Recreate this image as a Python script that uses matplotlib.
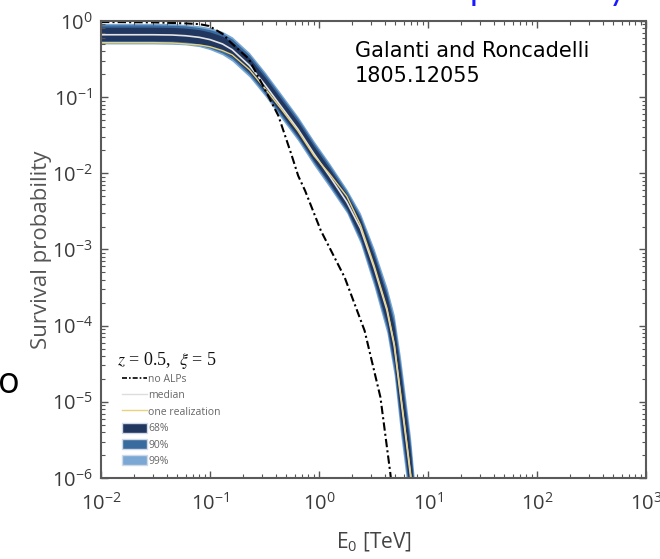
import matplotlib
matplotlib.use('Agg')
import matplotlib.pyplot as plt
from matplotlib.lines import Line2D
from matplotlib.patches import Patch
from matplotlib.ticker import LogLocator, NullFormatter

plt.rcParams['font.family'] = ['Open Sans', 'DejaVu Sans']
plt.rcParams['mathtext.default'] = 'regular'

# energies [TeV] shared by the ALP curves
energy = [0.01, 0.03, 0.045, 0.06, 0.08, 0.1, 0.13, 0.16, 0.23, 0.32, 0.45, 0.64,
          0.9, 1.25, 1.8, 2.4, 3.2, 4.2, 4.9, 5.6, 6.3, 6.9, 7.6]
median = [0.66, 0.66, 0.655, 0.64, 0.61, 0.57, 0.50, 0.42, 0.26, 0.145, 0.075, 0.038,
          0.018, 0.0092, 0.0042, 0.0019, 5.8e-4, 1.6e-4, 5.5e-5, 1.2e-5, 3.2e-6,
          1.1e-6, 2.5e-7]
realization = [0.52, 0.52, 0.515, 0.50, 0.485, 0.46, 0.41, 0.36, 0.23, 0.13, 0.07,
               0.036, 0.017, 0.0098, 0.0050, 0.0021, 6.2e-4, 1.7e-4, 5.8e-5, 1.3e-5,
               3.4e-6, 1.2e-6, 2.7e-7]
hi99 = [0.93, 0.93, 0.925, 0.90, 0.866, 0.82, 0.73, 0.62, 0.385, 0.214, 0.111, 0.056,
        0.0266, 0.0136, 0.0062, 0.0030, 1.03e-3, 3.2e-4, 1.38e-4, 3.8e-5, 1.0e-5,
        3.5e-6, 7.9e-7]
lo99 = [0.50, 0.50, 0.495, 0.486, 0.46, 0.42, 0.36, 0.297, 0.184, 0.103, 0.053, 0.0269,
        0.0127, 0.0065, 0.0030, 0.0012, 3.26e-4, 8.0e-5, 2.2e-5, 3.8e-6, 1.0e-6,
        3.5e-7, 7.9e-8]
hi90 = [0.89, 0.89, 0.88, 0.863, 0.82, 0.769, 0.69, 0.58, 0.359, 0.200, 0.1035, 0.0524,
        0.0248, 0.0127, 0.0058, 0.00275, 9.2e-4, 2.78e-4, 1.15e-4, 3.0e-5, 8.0e-6,
        2.8e-6, 6.3e-7]
lo90 = [0.524, 0.524, 0.52, 0.508, 0.48, 0.442, 0.38, 0.319, 0.197, 0.110, 0.0569,
        0.0288, 0.0137, 0.00698, 0.00319, 0.00131, 3.66e-4, 9.2e-5, 2.6e-5, 4.8e-6,
        1.27e-6, 4.4e-7, 1.0e-7]
hi68 = [0.83, 0.83, 0.825, 0.806, 0.77, 0.718, 0.63, 0.529, 0.327, 0.183, 0.0944,
        0.0478, 0.0227, 0.0116, 0.00529, 0.0025, 8.2e-4, 2.42e-4, 9.6e-5, 2.4e-5,
        6.4e-6, 2.2e-6, 5.0e-7]
lo68 = [0.55, 0.55, 0.545, 0.532, 0.50, 0.463, 0.41, 0.341, 0.211, 0.118, 0.061,
        0.0309, 0.0146, 0.00748, 0.00341, 0.00144, 4.1e-4, 1.06e-4, 3.2e-5, 6.0e-6,
        1.6e-6, 5.5e-7, 1.25e-7]

# no-ALP case
energy_noalp = [0.01, 0.03, 0.06, 0.08, 0.098, 0.13, 0.158, 0.226, 0.297, 0.424,
                0.556, 0.644, 0.746, 1.04, 1.72, 2.62, 3.66, 4.51, 4.8]
noalp = [0.97, 0.96, 0.93, 0.91, 0.86, 0.68, 0.51, 0.32, 0.154, 0.057,
         0.018, 0.0093, 0.0059, 0.00177, 4.3e-4, 8.6e-5, 1.15e-5, 1.16e-6, 5e-7]

c68, c90, c99 = '#223760', '#3a6b9f', '#7aa7d3'
c_med, c_real = '#e4e4e4', '#e9d27c'

fig = plt.figure(figsize=(6.6, 5.59), dpi=100)
ax = fig.add_axes([101 / 660, 1 - 478 / 559, 545 / 660, 457 / 559])

ax.fill_between(energy, lo99, hi99, color=c99, lw=0)
ax.fill_between(energy, lo90, hi90, color=c90, lw=0)
ax.fill_between(energy, lo68, hi68, color=c68, lw=0)
ax.plot(energy, median, color=c_med, lw=1.2)
ax.plot(energy, realization, color=c_real, lw=1.0)
ax.plot(energy_noalp, noalp, color='black', lw=1.5, ls=(0, (4, 1.5, 1, 1.5)))

ax.set_xscale('log')
ax.set_yscale('log')
ax.set_xlim(1e-2, 1e3)
ax.set_ylim(1e-6, 1e0)
ax.xaxis.set_major_locator(LogLocator(base=10, numticks=10))
ax.yaxis.set_major_locator(LogLocator(base=10, numticks=10))
ax.xaxis.set_minor_locator(LogLocator(base=10, subs=range(2, 10), numticks=20))
ax.yaxis.set_minor_locator(LogLocator(base=10, subs=range(2, 10), numticks=20))
ax.xaxis.set_minor_formatter(NullFormatter())
ax.yaxis.set_minor_formatter(NullFormatter())
ax.tick_params(which='both', direction='in', top=True, right=True, colors='#555555',
               labelcolor='#3a3a3a')
ax.tick_params(which='major', length=5, width=1.0, labelsize=14.5)
ax.tick_params(which='minor', length=3, width=0.8)
ax.tick_params(axis='x', pad=11)
ax.tick_params(axis='y', pad=6)
for sp in ax.spines.values():
    sp.set_color('#5a5a5a')
    sp.set_linewidth(1.5)

ax.set_ylabel('Survival probability', fontsize=16, color='#555555', labelpad=0)
ax.set_xlabel(r'E$_0$ [TeV]', fontsize=15, color='#444444', labelpad=11)

# legend block in the lower left corner
ax.text(0.03, 0.258, r'$\mathit{z}$ = 0.5,  $\mathit{\xi}$ = 5', transform=ax.transAxes,
        fontsize=13, color='#111111', va='center', family=['Liberation Serif'],
        math_fontfamily='stix')
handles = [
    Line2D([], [], color='black', lw=1.2, ls=(0, (3, 1.2, 1, 1.2))),
    Line2D([], [], color='#dddddd', lw=1.0),
    Line2D([], [], color=c_real, lw=1.0),
    Patch(facecolor=c68, edgecolor='#cfd8e6'),
    Patch(facecolor=c90, edgecolor='#cfd8e6'),
    Patch(facecolor=c99, edgecolor='#cfd8e6'),
]
labels = ['no ALPs', 'median', 'one realization', '68%', '90%', '99%']
ax.legend(handles, labels, loc='lower left', bbox_to_anchor=(0.038, 0.024),
          frameon=False, fontsize=7.5, labelcolor='#666666', handlelength=2.4,
          handleheight=1.1, labelspacing=0.47, handletextpad=0.15, borderpad=0,
          borderaxespad=0)

fig.text(355 / 660, 1 - 41 / 559, 'Galanti and Roncadelli\n1805.12055', fontsize=15,
         family=['DejaVu Sans'], va='top', ha='left', linespacing=1.3)
fig.text(470 / 660, 1.0, 'probability', fontsize=24, color='#1a1aff',
         family=['Lato', 'DejaVu Sans'], va='baseline', ha='left')
fig.text(20 / 660, 1 - 384 / 559, 'o', fontsize=26, color='black',
         va='center', ha='right')

fig.savefig('out.png', dpi=100)
